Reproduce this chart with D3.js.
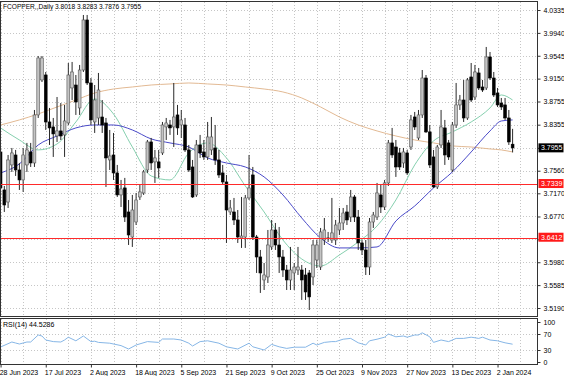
<!DOCTYPE html>
<html>
<head>
<meta charset="utf-8">
<script src="https://cdnjs.cloudflare.com/ajax/libs/d3/7.8.5/d3.min.js"></script>
<style>
    body { margin: 0; background: #fff; }
    svg text { font-family: "Liberation Sans", Arial, sans-serif; }
</style>
</head>
<body>
<div id="chart"></div>
<script>
// daily candles, 28 Jun 2023 .. 5 Jan 2024
const opens = [3.7884,3.7228,3.7020,3.7660,3.7832,3.7573,3.7401,3.7660,3.7884,3.7694,
    3.8523,3.9127,3.9213,3.8402,3.8316,3.8160,3.8247,3.8178,3.8385,3.8989,
    3.9040,3.8644,3.9299,4.0163,3.9075,3.8402,3.8471,3.8488,3.8385,3.7746,
    3.7832,3.7522,3.7142,3.7263,3.6848,3.6416,3.6675,3.7107,3.7176,3.7573,
    3.8057,3.7712,3.7712,3.7867,3.8316,3.8350,3.8316,3.8523,3.8350,3.8350,
    3.7919,3.7625,3.7142,3.8005,3.7884,3.7798,3.7919,3.7953,3.7746,3.7522,
    3.7366,3.6848,3.6848,3.6710,3.6399,3.6416,3.7090,3.7487,3.6416,3.6071,
    3.5674,3.5726,3.6244,3.6537,3.6278,3.6071,3.5846,3.5674,3.5795,3.5846,
    3.5846,3.5760,3.5795,3.5726,3.6019,3.5898,3.6364,3.6399,3.6364,3.6364,
    3.6537,3.6658,3.6848,3.6761,3.7107,3.6761,3.6313,3.6192,3.5898,3.6675,
    3.6761,3.7142,3.6934,3.7349,3.8040,3.7970,3.7867,3.7694,3.7867,3.7970,
    3.8488,3.8126,3.8523,3.9161,3.8230,3.7798,3.7280,3.8005,3.8299,3.8040,
    3.7573,3.8350,3.8696,3.8781,3.8471,3.9179,3.8833,3.9248,3.9006,3.8989,
    3.9524,3.9161,3.8902,3.8729,3.8696,3.8471,3.8018]
const highs = [3.7919,3.7297,3.7832,3.7953,3.7919,3.7694,3.7953,3.8040,3.8040,3.8609,
    3.9541,3.9541,3.9265,3.8644,3.8471,3.8833,3.8729,3.8696,3.9420,3.9438,
    3.9213,3.9386,4.0249,4.0249,3.9161,3.9040,3.9248,3.8781,3.8471,3.8264,
    3.8212,3.7660,3.7401,3.7436,3.7055,3.7142,3.7176,3.7314,3.7573,3.8091,
    3.8126,3.7919,3.7919,3.8402,3.8471,3.8437,3.9075,3.8696,3.8609,3.8471,
    3.8005,3.7746,3.8091,3.8178,3.8091,3.8402,3.8488,3.8350,3.7919,3.7660,
    3.7487,3.7055,3.7090,3.6882,3.7107,3.7142,3.7832,3.7625,3.6451,3.6192,
    3.5967,3.6537,3.6710,3.6658,3.6589,3.6192,3.5933,3.6244,3.5967,3.6244,
    3.5933,3.5881,3.5846,3.6364,3.6364,3.6572,3.6744,3.6503,3.7090,3.6710,
    3.6917,3.6917,3.6969,3.7228,3.7142,3.6882,3.6364,3.6364,3.6744,3.6848,
    3.7349,3.7314,3.7401,3.8091,3.8299,3.8091,3.7953,3.7953,3.7919,3.8523,
    3.8575,3.8609,3.9299,3.9213,3.8350,3.7919,3.8005,3.8609,3.8437,3.8091,
    3.8402,3.9075,3.8868,3.9127,3.9161,3.9420,3.9386,3.9334,3.9127,3.9697,
    3.9610,3.9265,3.8989,3.8816,3.8816,3.8609,3.8283]
const lows = [3.7142,3.6848,3.6917,3.7539,3.7470,3.7228,3.7194,3.7539,3.7625,3.7625,
    3.8471,3.9092,3.8264,3.8005,3.7798,3.8057,3.8091,3.7798,3.8350,3.8781,
    3.8523,3.8523,3.9265,3.9040,3.8350,3.8212,3.8350,3.8212,3.7280,3.7573,
    3.7401,3.7107,3.6934,3.6675,3.6278,3.6244,3.6623,3.7055,3.7142,3.7522,
    3.7573,3.7349,3.7436,3.7832,3.8091,3.8178,3.7970,3.8178,3.8126,3.7884,
    3.7539,3.7090,3.7107,3.7781,3.7746,3.7746,3.7832,3.7660,3.7436,3.7314,
    3.6313,3.6796,3.6623,3.6313,3.6227,3.6227,3.7055,3.6364,3.5795,3.5450,
    3.5501,3.5622,3.6192,3.6192,3.5795,3.5726,3.5501,3.5501,3.5501,3.5760,
    3.5329,3.5329,3.5156,3.5587,3.5881,3.5846,3.6278,3.6330,3.6313,3.6278,
    3.6451,3.6537,3.6623,3.6675,3.6675,3.6192,3.6105,3.5760,3.5760,3.6572,
    3.6710,3.6830,3.6882,3.7297,3.7781,3.7453,3.7573,3.7608,3.7487,3.7919,
    3.8264,3.8091,3.8471,3.8212,3.7608,3.7263,3.7245,3.7953,3.7660,3.7746,
    3.7539,3.8299,3.8609,3.8402,3.8437,3.8747,3.8781,3.8954,3.8920,3.8954,
    3.9127,3.8833,3.8661,3.8609,3.8437,3.8005,3.7876]
const closes = [3.7263,3.6969,3.7746,3.7867,3.7573,3.7401,3.7832,3.7919,3.7694,3.8523,
    3.9507,3.9507,3.8402,3.8299,3.8195,3.8247,3.8160,3.8419,3.9213,3.9265,
    3.8747,3.9299,4.0163,3.9075,3.8437,3.8781,3.8954,3.8350,3.7781,3.7815,
    3.7522,3.7142,3.7245,3.6761,3.6451,3.6882,3.7055,3.7194,3.7539,3.8057,
    3.7694,3.7781,3.7608,3.8350,3.8385,3.8299,3.8488,3.8299,3.8437,3.7919,
    3.7573,3.7107,3.8005,3.7867,3.7798,3.8143,3.8143,3.7746,3.7487,3.7366,
    3.6882,3.6917,3.6710,3.6416,3.6433,3.7090,3.7263,3.6416,3.6071,3.5795,
    3.5760,3.6278,3.6537,3.6278,3.6071,3.5846,3.5674,3.5846,3.5898,3.5898,
    3.5674,3.5467,3.5381,3.6278,3.6278,3.6503,3.6537,3.6399,3.6486,3.6623,
    3.6658,3.6830,3.6710,3.7107,3.6761,3.6313,3.6192,3.5898,3.6675,3.6796,
    3.7176,3.6934,3.7349,3.8040,3.7832,3.7625,3.7625,3.7884,3.7522,3.8437,
    3.8316,3.8523,3.9161,3.8230,3.7660,3.7280,3.7970,3.8316,3.7832,3.7798,
    3.8350,3.8696,3.8781,3.8471,3.9127,3.8781,3.9265,3.8989,3.8954,3.9524,
    3.9161,3.8868,3.8696,3.8661,3.8471,3.8057,3.7955]

// moving averages at these bars
const maBars = [0,5,10,15,20,25,30,35,40,45,50,55,60,65,70,75,80,85,90,95,100,105,110,115,120,125,130,133,136]
const maSlow = [3.8350,3.8437,3.8540,3.8661,3.8781,3.8902,3.8971,3.9006,3.9040,3.9058,3.9075,3.9058,3.9040,3.9006,3.8971,
    3.8920,3.8816,3.8661,3.8488,3.8350,3.8247,3.8160,3.8091,3.8040,3.7988,3.7970,3.7936,3.7919,3.7884]
const maMid = [3.7522,3.7677,3.8005,3.8160,3.8299,3.8350,3.8350,3.8264,3.8109,3.8040,3.7970,3.7781,3.7694,3.7625,3.7453,
    3.7142,3.6744,3.6399,3.6227,3.6227,3.6244,3.6692,3.6951,3.7263,3.7539,3.7884,3.8247,3.8419,3.8437]
const maFast = [3.8299,3.8091,3.7919,3.8022,3.8402,3.8799,3.8540,3.7970,3.7470,3.7401,3.7867,3.8040,3.7781,3.7297,3.6848,
    3.6364,3.6036,3.5916,3.6105,3.6330,3.6606,3.7055,3.7660,3.8074,3.8230,3.8402,3.8644,3.8868,3.8781]

const rsiBars = [0,3,4,5,7,8,10,11,12,14,16,17,18,20,22,24,25,26,29,32,34,36,39,42,43,46,48,50,51,53,55,58,60,63,66,67,70,72,74,76,
    78,81,83,84,86,88,89,91,93,95,97,98,100,102,103,105,107,108,110,111,112,114,115,117,119,121,123,125,127,128,130,132,134,136]
const rsiValues = [37.5,50,47.5,45,50,50,67.5,65,55,51,50,55,62,53,65,51,52,49,47,41,32.5,42.5,51,49,57.5,57.5,55,47,40,51,
    53,47,38,32.5,47,38,30,44,38,34,37,37,47,42.5,49,51,51,57,59,48,42.5,53,57,62,70,63,65,62,67.5,67.5,
    73,63,49,55,51,59,59,62,59,62,55,53,48,44.5286]

const priceTicks = [4.0335,3.9940,3.9545,3.9150,3.8755,3.8355,3.7955,3.7560,3.7170,3.6770,3.6375,3.5980,3.5585,3.5190]
const dateBars = [0,12,24,36,48,60,72,84,96,108,120,132]
const dateLabels = ["28 Jun 2023","17 Jul 2023","2 Aug 2023","18 Aug 2023","5 Sep 2023","21 Sep 2023",
    "9 Oct 2023","25 Oct 2023","9 Nov 2023","27 Nov 2023","13 Dec 2023","2 Jan 2024"]
const levels = [3.7339, 3.6412]
const rsiLevels = [70, 30]
const rsiTicks = [100, 70, 30, 0]


class CandleVis {

    constructor(parentElement) {
        this.parentElement = parentElement
        this.initVis()
    }

    initVis() {
        let vis = this

        vis.width = 564
        vis.height = 376
        vis.left = 0.5
        vis.right = 537.5
        vis.main = {top: 1.5, bottom: 316.5}
        vis.sub = {top: 318.5, bottom: 364.5}

        vis.svg = d3.select("#" + vis.parentElement)
            .append("svg")
            .attr("width", vis.width)
            .attr("height", vis.height)

        vis.svg.append("rect").attr("width", vis.width).attr("height", vis.height).attr("fill", "#fff")

        vis.x = d3.scaleLinear().domain([0, 136]).range([0.56, 512.6])
        vis.y = d3.scaleLinear().domain([3.5190, 4.0335]).range([308, 10])
        vis.yRsi = d3.scaleLinear().domain([0, 100]).range([362, 322])

        vis.svg.append("clipPath").attr("id", "mainClip")
            .append("rect")
            .attr("x", vis.left).attr("y", vis.main.top)
            .attr("width", vis.right - vis.left).attr("height", vis.main.bottom - vis.main.top)

        vis.svg.append("clipPath").attr("id", "subClip")
            .append("rect")
            .attr("x", vis.left).attr("y", vis.sub.top)
            .attr("width", vis.right - vis.left).attr("height", vis.sub.bottom - vis.sub.top)

        vis.updateVis()
    }

    updateVis() {
        let vis = this
        let n = closes.length
        let bars = d3.range(n).map(i => ({i: i, o: opens[i], h: highs[i], l: lows[i], c: closes[i]}))

        // price tags drawn on the scale (they hide the tick label underneath)
        let tags = [{v: closes[n - 1], bg: "#000"}, {v: levels[0], bg: "#ff1a1a"}, {v: levels[1], bg: "#ff1a1a"}]
        let hidden = v => tags.some(t => Math.abs(vis.y(t.v) - vis.y(v)) < 6)

        // grid
        let grid = vis.svg.append("g")
            .attr("stroke", "#c6c6c6")
            .attr("stroke-dasharray", "1,2")
            .attr("shape-rendering", "crispEdges")

        let gridBars = d3.range(0, 139, 6)
        grid.selectAll(".vgrid").data(gridBars).enter().append("line")
            .attr("x1", d => Math.round(vis.x(d)) + 0.5).attr("x2", d => Math.round(vis.x(d)) + 0.5)
            .attr("y1", vis.main.top).attr("y2", vis.main.bottom)
        grid.selectAll(".vgrid2").data(gridBars).enter().append("line")
            .attr("x1", d => Math.round(vis.x(d)) + 0.5).attr("x2", d => Math.round(vis.x(d)) + 0.5)
            .attr("y1", vis.sub.top).attr("y2", vis.sub.bottom)
        grid.selectAll(".hgrid").data(priceTicks).enter().append("line")
            .attr("x1", vis.left).attr("x2", vis.right)
            .attr("y1", d => Math.round(vis.y(d)) + 0.5).attr("y2", d => Math.round(vis.y(d)) + 0.5)
        grid.selectAll(".rgrid").data(rsiLevels).enter().append("line")
            .attr("x1", vis.left).attr("x2", vis.right)
            .attr("y1", d => Math.round(vis.yRsi(d)) + 0.5).attr("y2", d => Math.round(vis.yRsi(d)) + 0.5)

        let plot = vis.svg.append("g").attr("clip-path", "url(#mainClip)")

        // moving averages
        let maLine = vals => d3.line()
            .x((d, k) => vis.x(maBars[k]))
            .y(d => vis.y(d))
            .curve(d3.curveMonotoneX)(vals)

        let mas = [{v: maSlow, c: "#e2b993"}, {v: maFast, c: "#85cfae"}, {v: maMid, c: "#4a4ac8"}]
        plot.selectAll(".ma").data(mas).enter().append("path")
            .attr("d", d => maLine(d.v))
            .attr("fill", "none")
            .attr("stroke", d => d.c)
            .attr("stroke-width", 1)

        // candles
        let candle = plot.selectAll(".candle").data(bars).enter().append("g")

        candle.append("line")
            .attr("x1", d => vis.x(d.i)).attr("x2", d => vis.x(d.i))
            .attr("y1", d => vis.y(d.h)).attr("y2", d => vis.y(d.l))
            .attr("stroke", "#2a2a2a")
            .attr("stroke-width", 1)

        candle.append("rect")
            .attr("x", d => vis.x(d.i) - 1.4)
            .attr("width", 2.8)
            .attr("y", d => vis.y(Math.max(d.o, d.c)))
            .attr("height", d => Math.max(0.8, Math.abs(vis.y(d.o) - vis.y(d.c))))
            .attr("fill", d => d.c > d.o ? "#c4c4c4" : "#000")
            .attr("stroke", d => d.c > d.o ? "#555" : "#000")
            .attr("stroke-width", 0.6)

        // support / resistance lines, as 1px bands on even rows
        vis.svg.append("g").selectAll("rect").data(levels).enter().append("rect")
            .attr("x", vis.left).attr("width", vis.right - vis.left)
            .attr("y", d => 2 * Math.round(vis.y(d) / 2)).attr("height", 1)
            .attr("fill", "#ff2a2a")

        // RSI panel
        let sub = vis.svg.append("g").attr("clip-path", "url(#subClip)")
        sub.append("path")
            .attr("d", d3.line().x((d, k) => vis.x(rsiBars[k])).y(d => vis.yRsi(d))(rsiValues))
            .attr("fill", "none")
            .attr("stroke", "#86b6e6")
            .attr("stroke-width", 1)

        // frames
        vis.svg.append("rect")
            .attr("x", vis.left).attr("y", vis.main.top)
            .attr("width", vis.right - vis.left).attr("height", vis.main.bottom - vis.main.top)
            .attr("fill", "none").attr("stroke", "#333").attr("shape-rendering", "crispEdges")
        vis.svg.append("rect")
            .attr("x", vis.left).attr("y", vis.sub.top)
            .attr("width", vis.right - vis.left).attr("height", vis.sub.bottom - vis.sub.top)
            .attr("fill", "none").attr("stroke", "#333").attr("shape-rendering", "crispEdges")

        // axes
        let yAxis = d3.axisRight(vis.y)
            .tickValues(priceTicks)
            .tickFormat(d => hidden(d) ? "" : d3.format(".4f")(d))
            .tickSize(3)
        let gy = vis.svg.append("g")
            .attr("transform", `translate(${vis.right},0)`)
            .call(yAxis)
        gy.select(".domain").remove()

        let rAxis = d3.axisRight(vis.yRsi).tickValues(rsiTicks).tickSize(3)
        let gr = vis.svg.append("g")
            .attr("transform", `translate(${vis.right},0)`)
            .call(rAxis)
        gr.select(".domain").remove()

        let xAxis = d3.axisBottom(vis.x)
            .tickValues(dateBars)
            .tickFormat((d, k) => dateLabels[k])
            .tickSize(3)
        let gx = vis.svg.append("g")
            .attr("transform", `translate(0,${vis.sub.bottom})`)
            .call(xAxis)
        gx.select(".domain").remove()
        gx.selectAll("text").attr("text-anchor", "start").attr("dx", "-0.2em").attr("dy", "0.6em")

        vis.svg.selectAll(".tick text").attr("font-size", 7).attr("fill", "#000")
            .attr("font-family", "Liberation Sans, Arial, sans-serif")
        vis.svg.selectAll(".tick line").attr("stroke", "#333")

        let tag = vis.svg.selectAll(".tag").data(tags).enter().append("g")
            .attr("transform", d => `translate(${vis.right + 1},${vis.y(d.v)})`)
        tag.append("rect")
            .attr("x", 0).attr("y", -4.5).attr("width", 25).attr("height", 9)
            .attr("fill", d => d.bg)
        tag.append("text")
            .attr("x", 2.5).attr("y", 0).attr("dy", "0.35em")
            .attr("font-size", 7).attr("fill", "#fff")
            .text(d => d3.format(".4f")(d.v))

        // titles
        vis.svg.append("text")
            .attr("x", 3).attr("y", 9)
            .attr("font-size", 6.6).attr("fill", "#000")
            .text("FCOPPER,,Daily  " + [opens[n - 1], highs[n - 1], lows[n - 1], closes[n - 1]].map(d3.format(".4f")).join(" "))

        vis.svg.append("text")
            .attr("x", 3).attr("y", 327)
            .attr("font-size", 7).attr("fill", "#000")
            .text("RSI(14) " + rsiValues[rsiValues.length - 1].toFixed(4))
    }
}

new CandleVis("chart")
</script>
</body>
</html>
